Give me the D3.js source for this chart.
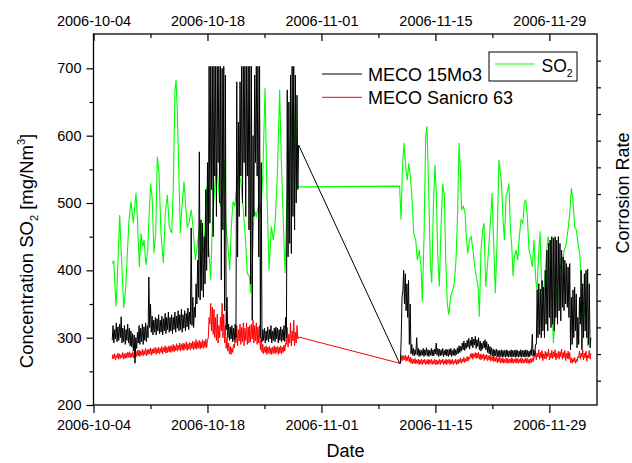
<!DOCTYPE html>
<html>
<head>
<meta charset="utf-8">
<script src="https://cdnjs.cloudflare.com/ajax/libs/d3/7.8.5/d3.min.js"></script>
<style>
  body { margin: 0; background: #fff; }
  svg { display: block; font-family: 'Liberation Sans', Arial, sans-serif; }
</style>
</head>
<body>
<div id="chart"></div>
<script>
// --- DATA ---
// time is in days after 2006-10-04 00:00
const majorDates = ["2006-10-04", "2006-10-18", "2006-11-01", "2006-11-15", "2006-11-29"];
const minorDates = ["2006-10-11", "2006-10-25", "2006-11-08", "2006-11-22"];
const yMajor = [200, 300, 400, 500, 600, 700];
const yMinor = [250, 350, 450, 550, 650];
const rateTicks = [0, 1, 2, 3, 4, 5, 6, 7, 8, 9, 10, 11, 12];
const seriesNames = ["MECO 15Mo3", "MECO Sanicro 63"];

// SO2 readings [day, mg/Nm3]
const so2Seg1 = [[2.31,410],[2.48,415],[2.76,346],[2.92,386],[3.22,482],[3.38,435],[3.71,344],[3.96,376],[4.20,435],[4.36,475],[4.61,502],[4.89,470],[5.22,515],[5.38,480],[5.63,405],[5.84,455],[6.04,435],[6.20,445],[6.45,408],[6.66,430],[6.86,490],[7.03,529],[7.22,505],[7.43,425],[7.64,455],[7.84,569],[8.05,544],[8.29,455],[8.58,411],[8.82,485],[9.07,512],[9.31,465],[9.61,455],[9.80,524],[10.01,668],[10.14,683],[10.29,638],[10.50,539],[10.66,455],[10.87,495],[11.12,532],[11.33,495],[11.52,465],[11.73,470],[12.01,490],[12.22,465],[12.51,415],[12.84,445],[13.12,470],[13.33,440],[13.57,425],[13.78,490],[13.94,524],[14.15,435],[14.40,386],[14.59,465],[14.89,524],[15.13,564],[15.38,519],[15.58,495],[15.82,510],[16.03,564],[16.28,465],[16.52,435],[16.73,400],[16.93,465],[17.14,502],[17.35,495],[17.59,524],[17.84,544],[18.08,534],[18.37,495],[18.65,450],[18.89,396],[19.14,391],[19.31,366],[19.51,415],[19.72,490],[20.00,480],[20.33,500],[20.54,485],[20.79,539],[21.07,671],[21.31,515],[21.56,400],[21.84,465],[22.09,445],[22.33,475],[22.58,539],[22.87,668],[23.07,564],[23.32,470],[23.53,396],[23.77,505],[24.05,564],[24.30,614],[24.51,671],[24.72,589],[24.96,524]];
const so2Seg2 = [[37.60,525],[37.78,475],[37.94,549],[38.14,589],[38.35,554],[38.55,534],[38.72,559],[38.92,539],[39.09,515],[39.34,455],[39.58,445],[39.78,415],[40.02,430],[40.23,405],[40.39,353],[40.60,450],[40.81,599],[40.97,614],[41.18,515],[41.38,410],[41.55,381],[41.74,490],[41.95,557],[42.11,515],[42.28,425],[42.48,376],[42.69,465],[42.90,529],[43.10,510],[43.27,415],[43.46,351],[43.64,334],[43.88,361],[44.13,371],[44.32,381],[44.53,415],[44.74,490],[44.90,589],[45.06,549],[45.23,490],[45.43,495],[45.64,485],[45.80,450],[45.97,425],[46.17,445],[46.38,450],[46.62,430],[46.83,405],[47.03,391],[47.24,376],[47.40,331],[47.60,430],[47.81,460],[47.97,470],[48.18,376],[48.38,405],[48.59,440],[48.80,480],[48.96,515],[49.16,440],[49.36,366],[49.57,440],[49.81,564],[50.10,534],[50.31,475],[50.47,445],[50.68,510],[50.88,519],[51.04,529],[51.20,465],[51.38,435],[51.54,391],[51.70,420],[51.91,430],[52.11,415],[52.31,450],[52.52,475],[52.73,470],[52.92,500],[53.10,505],[53.29,480],[53.50,430],[53.71,420],[53.90,405],[54.11,445],[54.32,386],[54.48,371],[54.69,425],[54.85,458],[55.06,376],[55.26,361],[55.47,396],[55.68,430],[55.84,450],[56.08,435],[56.29,361],[56.49,292],[56.69,326],[56.90,371],[57.10,396],[57.35,405],[57.59,415],[57.84,430],[58.08,440],[58.33,465],[58.54,490],[58.70,522],[58.88,507],[59.11,465],[59.31,460],[59.52,440],[59.73,425],[59.89,391],[60.10,361],[60.29,341],[60.52,321],[60.72,287],[60.87,297]];

// corrosion probes: [low, high] per 0.2 day bin, from the segment start
const sampleStep = 0.2;
const seg1Start = 2.3;
const seg2Start = 37.6;

const meco15Seg1 = [[296,318],[292,312],[298,322],[294,316],[296,320],[300,331],[292,314],[294,318],[290,312],[296,320],[292,314],[288,310],[286,306],[280,304],[262,300],[284,308],[292,318],[290,314],[294,320],[290,316],[296,322],[294,318],[300,390],[315,350],[308,332],[304,326],[308,330],[304,328],[310,334],[306,326],[308,332],[304,328],[310,336],[306,330],[312,338],[308,330],[310,334],[306,330],[312,338],[308,332],[314,340],[310,334],[312,342],[308,334],[314,340],[310,336],[316,344],[312,338],[320,463],[318,360],[315,345],[330,380],[350,415],[360,576],[356,475],[370,470],[360,450],[380,520],[400,560],[420,703],[470,703],[520,703],[450,703],[540,703],[480,703],[560,703],[500,703],[386,700],[460,703],[340,690],[312,360],[300,320],[296,316],[298,318],[294,314],[296,320],[300,680],[420,620],[480,680],[540,703],[500,703],[560,703],[480,703],[540,703],[460,703],[380,703],[326,600],[480,690],[560,703],[540,703],[420,703],[300,560],[294,312],[296,314],[292,310],[296,316],[294,312],[298,318],[292,310],[296,314],[294,316],[298,314],[292,312],[296,316],[294,312],[296,318],[294,330],[300,668],[420,650],[440,690],[425,703],[480,703],[460,690],[500,660],[520,586]];
const meco15Seg2 = [[262,262],[300,360],[370,400],[350,395],[340,380],[330,385],[290,350],[276,290],[274,284],[273,282],[275,300],[274,284],[272,282],[273,281],[274,284],[272,282],[274,285],[273,282],[272,281],[274,284],[273,282],[273,283],[276,292],[274,284],[272,283],[273,282],[274,284],[272,281],[274,283],[273,282],[272,283],[274,284],[272,281],[274,284],[273,282],[275,285],[276,288],[278,287],[280,292],[282,295],[281,292],[284,296],[286,299],[283,296],[288,301],[285,298],[289,302],[284,297],[287,300],[282,295],[280,292],[283,295],[285,297],[282,294],[278,290],[276,287],[274,285],[273,283],[272,282],[273,283],[272,281],[271,281],[272,282],[271,281],[272,281],[271,282],[272,281],[271,280],[272,282],[271,281],[272,281],[271,282],[272,281],[271,280],[272,282],[271,281],[272,281],[271,282],[272,281],[271,280],[272,282],[274,305],[272,282],[273,290],[290,371],[300,380],[305,372],[300,385],[310,375],[300,400],[320,430],[310,440],[330,445],[315,450],[320,448],[310,450],[330,445],[320,450],[340,440],[325,430],[345,420],[340,415],[350,410],[345,405],[330,410],[282,360],[290,371],[300,375],[310,365],[285,330],[290,360],[320,400],[282,380],[300,395],[310,400],[300,402],[290,380],[285,300]];

const sanicroSeg1 = [[268,275],[269,276],[267,274],[270,277],[268,276],[269,275],[270,278],[268,276],[269,277],[270,278],[271,279],[270,277],[271,279],[270,278],[272,280],[272,281],[273,282],[272,280],[274,283],[273,281],[275,284],[273,282],[275,283],[276,285],[274,283],[276,284],[277,286],[275,284],[277,286],[276,284],[278,287],[276,285],[279,288],[277,286],[278,287],[279,288],[278,288],[280,290],[279,288],[281,291],[280,289],[282,292],[280,290],[282,292],[281,291],[283,294],[281,291],[283,293],[282,292],[284,295],[282,293],[284,297],[283,294],[285,296],[283,294],[285,297],[284,295],[286,298],[285,296],[300,330],[320,351],[310,345],[305,342],[300,330],[296,335],[292,318],[300,330],[310,351],[300,335],[292,318],[284,300],[280,292],[276,287],[275,285],[278,290],[285,305],[292,318],[288,312],[295,320],[290,315],[294,322],[288,314],[296,322],[290,316],[292,318],[294,320],[298,326],[292,318],[295,322],[290,316],[292,318],[282,300],[278,290],[276,286],[278,288],[275,286],[277,287],[276,285],[275,286],[277,288],[276,286],[278,287],[275,286],[277,288],[276,286],[278,289],[280,292],[290,315],[286,305],[292,322],[288,310],[295,326],[288,308],[292,318],[298,301]];
const sanicroSeg2 = [[262,262],[266,274],[266,273],[267,274],[265,272],[266,274],[264,271],[262,269],[261,268],[262,269],[261,267],[262,268],[260,267],[261,268],[260,267],[262,268],[260,266],[261,268],[260,267],[262,268],[260,266],[261,268],[260,267],[260,266],[261,268],[260,267],[262,268],[260,266],[261,268],[260,267],[262,268],[260,267],[261,268],[260,266],[262,268],[260,267],[261,268],[263,270],[262,268],[264,271],[263,269],[265,272],[265,271],[268,276],[270,277],[268,276],[271,278],[269,277],[270,278],[268,276],[267,275],[269,276],[266,274],[268,275],[266,273],[267,274],[265,272],[266,273],[264,271],[265,272],[263,270],[264,271],[262,269],[263,270],[262,268],[263,270],[262,269],[262,268],[263,270],[262,269],[262,268],[263,270],[262,269],[262,268],[263,270],[262,269],[262,268],[263,270],[262,269],[262,268],[262,269],[263,270],[264,271],[270,280],[267,277],[271,282],[268,278],[270,281],[266,276],[269,280],[268,278],[272,283],[267,277],[270,281],[269,279],[271,282],[267,277],[270,280],[268,279],[272,283],[268,278],[270,281],[266,277],[269,280],[268,278],[263,270],[262,269],[264,271],[262,268],[264,272],[270,280],[268,277],[271,282],[267,277],[270,280],[265,274],[270,281],[268,277]];

// --- SETUP ---
const width = 632, height = 463;
const plot = { left: 93.5, right: 597, top: 34, bottom: 405 };
const fontFamily = "'Liberation Sans', Arial, sans-serif";

const t0 = Date.UTC(2006, 9, 4);
const dayToDate = d => new Date(t0 + d * 864e5);
const parseDay = d3.utcParse("%Y-%m-%d");
const fmtDay = d3.utcFormat("%Y-%m-%d");

const x = d3.scaleUtc()
    .domain([dayToDate(0), dayToDate(61.85)])
    .range([plot.left, plot.right]);

const y = d3.scaleLinear()
    .domain([200, 751])
    .range([plot.bottom, plot.top]);

const yRate = d3.scaleLinear()
    .domain([-0.91, 13])
    .range([plot.bottom, plot.top]);

const svg = d3.select("#chart").append("svg")
    .attr("width", width)
    .attr("height", height);

// each bin holds the low and high reading; the trace runs low -> high inside the bin
function binned(start, bins) {
    const pts = [];
    bins.forEach((b, i) => {
        const d = start + i * sampleStep;
        pts.push([d, b[0]]);
        pts.push([d + sampleStep / 2, b[1]]);
    });
    return pts;
}

const so2Data = so2Seg1.concat(so2Seg2);
const meco15Data = binned(seg1Start, meco15Seg1).concat(binned(seg2Start, meco15Seg2));
const sanicroData = binned(seg1Start, sanicroSeg1).concat(binned(seg2Start, sanicroSeg2));

const line = d3.line()
    .x(d => x(dayToDate(d[0])))
    .y(d => y(d[1]));

// --- LINES ---
const lines = svg.append("g");
lines.append("path").datum(so2Data)
    .attr("d", line).attr("fill", "none")
    .attr("stroke", "#00ff00").attr("stroke-width", 1.1);
lines.append("path").datum(sanicroData)
    .attr("d", line).attr("fill", "none")
    .attr("stroke", "#ff0000").attr("stroke-width", 1);
lines.append("path").datum(meco15Data)
    .attr("d", line).attr("fill", "none")
    .attr("stroke", "#000").attr("stroke-width", 1);

// --- AXES ---
function styleAxis(g, size) {
    g.select(".domain").remove();
    g.selectAll("line").attr("stroke", "#000").attr("stroke-width", 1.2);
    g.selectAll("text")
        .attr("fill", "#000")
        .style("font-family", fontFamily)
        .style("font-size", size + "px");
}

const majors = majorDates.map(parseDay);
const minors = minorDates.map(parseDay);

svg.append("g")
    .attr("transform", `translate(0,${plot.bottom})`)
    .call(d3.axisBottom(x).tickValues(majors).tickFormat(fmtDay).tickSizeInner(8).tickSizeOuter(0).tickPadding(6.5))
    .call(g => styleAxis(g, 14.5));
svg.append("g")
    .attr("transform", `translate(0,${plot.bottom})`)
    .call(d3.axisBottom(x).tickValues(minors).tickFormat("").tickSizeInner(4).tickSizeOuter(0))
    .call(g => styleAxis(g, 14.5));

svg.append("g")
    .attr("transform", `translate(0,${plot.top})`)
    .call(d3.axisTop(x).tickValues(majors).tickFormat(fmtDay).tickSizeInner(-7).tickSizeOuter(0).tickPadding(8))
    .call(g => styleAxis(g, 14.5));
svg.append("g")
    .attr("transform", `translate(0,${plot.top})`)
    .call(d3.axisTop(x).tickValues(minors).tickFormat("").tickSizeInner(-4).tickSizeOuter(0))
    .call(g => styleAxis(g, 14.5));

svg.append("g")
    .attr("transform", `translate(${plot.left},0)`)
    .call(d3.axisLeft(y).tickValues(yMajor).tickSizeInner(7).tickSizeOuter(0).tickPadding(5))
    .call(g => styleAxis(g, 14.5));
svg.append("g")
    .attr("transform", `translate(${plot.left},0)`)
    .call(d3.axisLeft(y).tickValues(yMinor).tickFormat("").tickSizeInner(4).tickSizeOuter(0))
    .call(g => styleAxis(g, 14.5));

svg.append("g")
    .attr("transform", `translate(${plot.right},0)`)
    .call(d3.axisRight(yRate).tickValues(rateTicks).tickFormat("").tickSizeInner(4).tickSizeOuter(0))
    .call(g => styleAxis(g, 14.5));

// frame
svg.append("rect")
    .attr("x", plot.left).attr("y", plot.top)
    .attr("width", plot.right - plot.left)
    .attr("height", plot.bottom - plot.top)
    .attr("fill", "none").attr("stroke", "#000").attr("stroke-width", 1.3);

// --- TITLES ---
svg.append("text")
    .attr("x", 345.5).attr("y", 457)
    .attr("text-anchor", "middle")
    .style("font-size", "18px")
    .text("Date");

const yTitle = svg.append("text")
    .attr("transform", "translate(33,251) rotate(-90)")
    .attr("text-anchor", "middle")
    .style("font-size", "18.5px");
yTitle.append("tspan").text("Concentration SO");
yTitle.append("tspan").attr("dy", 5).style("font-size", "11px").text("2");
yTitle.append("tspan").attr("dy", -5).text(" [mg/Nm");
yTitle.append("tspan").attr("dy", -8).style("font-size", "11px").text("3");
yTitle.append("tspan").attr("dy", 8).text("]");

svg.append("text")
    .attr("transform", "translate(629,193) rotate(-90)")
    .attr("text-anchor", "middle")
    .style("font-size", "18px")
    .text("Corrosion Rate");

// --- LEGENDS ---
const legend = svg.append("g");
const legendColors = ["#000", "#ff0000"];
seriesNames.forEach((name, i) => {
    const ly = 74 + i * 23.3;
    legend.append("line")
        .attr("x1", 322).attr("x2", 362)
        .attr("y1", ly).attr("y2", ly)
        .attr("stroke", legendColors[i]).attr("stroke-width", 1);
    legend.append("text")
        .attr("x", 368).attr("y", ly + 6.7)
        .style("font-size", "18px")
        .text(name);
});

const so2Legend = svg.append("g");
so2Legend.append("rect")
    .attr("x", 489).attr("y", 52)
    .attr("width", 88).attr("height", 29)
    .attr("fill", "#fff").attr("stroke", "#000").attr("stroke-width", 1);
so2Legend.append("line")
    .attr("x1", 495).attr("x2", 535)
    .attr("y1", 64).attr("y2", 64)
    .attr("stroke", "#00ff00").attr("stroke-width", 1);
const so2Text = so2Legend.append("text")
    .attr("x", 541.5).attr("y", 71.5)
    .style("font-size", "17.5px");
so2Text.append("tspan").text("SO");
so2Text.append("tspan").attr("dy", 5).style("font-size", "10.5px").text("2");
</script>
</body>
</html>
